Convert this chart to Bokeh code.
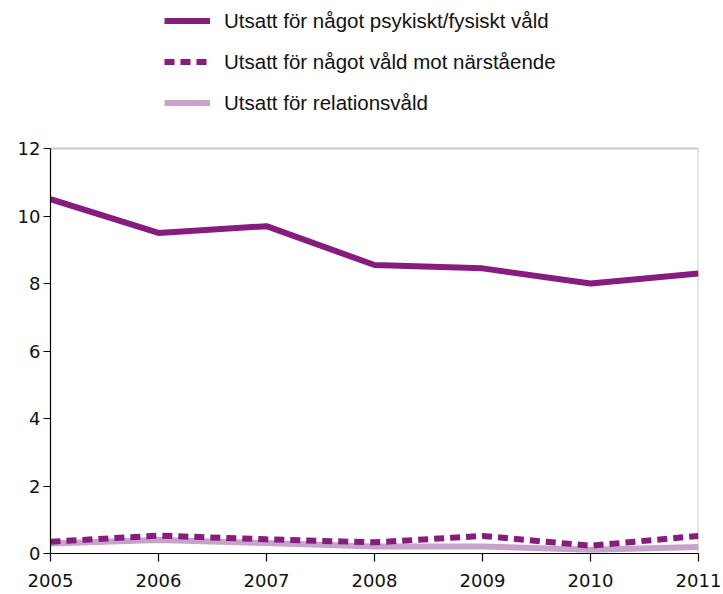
from bokeh.plotting import figure
from bokeh.models import ColumnDataSource, Legend, LegendItem, FixedTicker, Range1d
from bokeh.embed import file_html
from bokeh.resources import INLINE

years = [2005, 2006, 2007, 2008, 2009, 2010, 2011]
psykiskt_fysiskt = [10.5, 9.5, 9.7, 8.55, 8.45, 8.0, 8.3]
narstaende = [0.35, 0.53, 0.42, 0.33, 0.52, 0.23, 0.52]
relationsvald = [0.3, 0.4, 0.31, 0.21, 0.21, 0.11, 0.19]
y_ticks = [0, 2, 4, 6, 8, 10, 12]
y_max = 12
labels = ["Utsatt för något psykiskt/fysiskt våld",
          "Utsatt för något våld mot närstående",
          "Utsatt för relationsvåld"]

DARK = "#861C7E"
LIGHT = "#C7A2CB"
BORDER = "#C5CDD3"
FONT = "Liberation Sans"
TICK_FONT = "DejaVu Sans"

src = ColumnDataSource(dict(x=years, a=psykiskt_fysiskt, b=narstaende, c=relationsvald))

# frame extends above y=12 so the legend (drawn inside the frame) is not clipped
p = figure(width=723, height=593, output_backend="svg", toolbar_location=None,
           x_range=Range1d(2005, 2011), y_range=Range1d(0, 16.24),
           min_border_left=50, min_border_right=25, min_border_top=5, min_border_bottom=40)

# top and right border of the plot area (light grey)
p.segment(x0=[years[0]], y0=[y_max], x1=[years[-1]], y1=[y_max], line_color=BORDER, line_width=2)
p.segment(x0=[years[-1]], y0=[0], x1=[years[-1]], y1=[y_max], line_color=BORDER, line_width=2)

r3 = p.line("x", "c", source=src, line_color=LIGHT, line_width=6)
r2 = p.line("x", "b", source=src, line_color=DARK, line_width=6, line_dash="10 6")
r1 = p.line("x", "a", source=src, line_color=DARK, line_width=6)

p.xgrid.visible = False
p.ygrid.visible = False
p.outline_line_color = None
p.background_fill_color = "white"
p.border_fill_color = "white"

for ax in (p.xaxis[0], p.yaxis[0]):
    ax.axis_line_color = "black"
    ax.axis_line_width = 1.2
    ax.major_tick_line_color = "black"
    ax.major_tick_line_width = 1.2
    ax.minor_tick_line_color = None
    ax.major_tick_in = 0
    ax.major_label_text_font = TICK_FONT
    ax.major_label_text_font_size = "18px"
    ax.major_label_text_color = "#111111"

p.xaxis[0].ticker = FixedTicker(ticks=years)
p.xaxis[0].major_tick_out = 8
p.xaxis[0].major_label_standoff = 12
p.yaxis[0].ticker = FixedTicker(ticks=y_ticks)
p.yaxis[0].bounds = (0, y_max)
p.yaxis[0].major_tick_out = 7
p.yaxis[0].major_label_standoff = 3

legend = Legend(items=[LegendItem(label=labels[0], renderers=[r1]),
                       LegendItem(label=labels[1], renderers=[r2]),
                       LegendItem(label=labels[2], renderers=[r3])],
                location=(114, 438), orientation="vertical",
                glyph_width=46, glyph_height=25, label_height=25, spacing=16,
                label_standoff=14, padding=0, margin=0,
                border_line_color=None, background_fill_alpha=0,
                label_text_font=FONT, label_text_font_size="20.5px",
                label_text_color="#111111")
p.add_layout(legend, "center")

open("out.html", "w").write(file_html(p, INLINE))
